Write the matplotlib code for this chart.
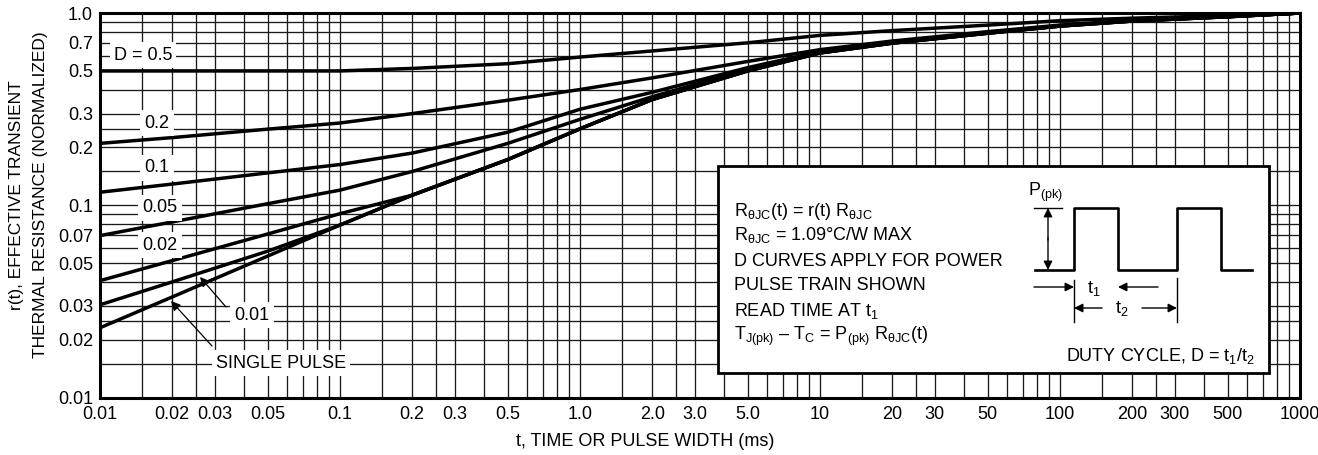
"""Transient thermal response chart (r(t) vs pulse width) with duty-cycle curves."""
import matplotlib
matplotlib.use("Agg")
import matplotlib.pyplot as plt
from matplotlib import font_manager
from matplotlib.patches import Rectangle
from matplotlib.ticker import FixedLocator, NullFormatter

# ---- data ------------------------------------------------------------------
t_ms = [0.01, 0.02, 0.05, 0.1, 0.2, 0.5, 1, 2, 5, 10, 20, 50, 100, 200, 500, 1000]
r_d50 = [0.50, 0.50, 0.50, 0.50, 0.515, 0.545, 0.59, 0.635, 0.70, 0.765, 0.81, 0.865, 0.912, 0.94, 0.97, 1.0]
r_d20 = [0.21, 0.225, 0.249, 0.268, 0.30, 0.352, 0.40, 0.46, 0.56, 0.645, 0.715, 0.80, 0.865, 0.915, 0.96, 1.0]
r_d10 = [0.117, 0.129, 0.1475, 0.163, 0.187, 0.24, 0.316, 0.387, 0.52, 0.63, 0.705, 0.79, 0.86, 0.912, 0.958, 1.0]
r_d05 = [0.0696, 0.082, 0.102, 0.12, 0.15, 0.21, 0.28, 0.367, 0.51, 0.625, 0.70, 0.787, 0.857, 0.91, 0.957, 1.0]
r_d02 = [0.0406, 0.0516, 0.071, 0.0905, 0.113, 0.173, 0.25, 0.355, 0.50, 0.62, 0.697, 0.785, 0.855, 0.908, 0.956, 1.0]
r_d01 = [0.0304, 0.040, 0.0578, 0.079, 0.113, 0.173, 0.25, 0.355, 0.50, 0.62, 0.697, 0.785, 0.855, 0.908, 0.956, 1.0]
r_single = [0.0231, 0.0334, 0.0545, 0.079, 0.113, 0.173, 0.25, 0.355, 0.50, 0.62, 0.697, 0.785, 0.855, 0.908, 0.956, 1.0]

x_ticks = [0.01, 0.02, 0.03, 0.05, 0.1, 0.2, 0.3, 0.5, 1, 2, 3, 5, 10, 20, 30, 50, 100, 200, 300, 500, 1000]
x_labels = ["0.01", "0.02", "0.03", "0.05", "0.1", "0.2", "0.3", "0.5", "1.0", "2.0", "3.0", "5.0",
            "10", "20", "30", "50", "100", "200", "300", "500", "1000"]
y_ticks = [0.01, 0.02, 0.03, 0.05, 0.07, 0.1, 0.2, 0.3, 0.5, 0.7, 1.0]
y_labels = ["0.01", "0.02", "0.03", "0.05", "0.07", "0.1", "0.2", "0.3", "0.5", "0.7", "1.0"]
grid_steps = [1, 1.5, 2, 2.5, 3, 4, 5, 6, 7, 8, 9]

# ---- fonts ------------------------------------------------------------------
names = {f.name for f in font_manager.fontManager.ttflist}
FONT = "Liberation Sans Narrow" if "Liberation Sans Narrow" in names else "Liberation Sans"
plt.rcParams["font.family"] = [FONT, "DejaVu Sans"]
plt.rcParams["mathtext.fontset"] = "custom"
plt.rcParams["mathtext.rm"] = FONT
plt.rcParams["mathtext.it"] = FONT
plt.rcParams["mathtext.bf"] = FONT

W, H = 1318, 455
fig = plt.figure(figsize=(W / 100, H / 100), dpi=100)
L, R, T, B = 100, 1300, 13, 397.7
ax = fig.add_axes([L / W, 1 - B / H, (R - L) / W, (B - T) / H])


def axf(px, py):
    """reference pixel -> axes fraction (for annotation furniture only)"""
    return (px - L) / (R - L), (B - py) / (B - T)


ax.set_xscale("log")
ax.set_yscale("log")
ax.set_xlim(0.01, 1000)
ax.set_ylim(0.01, 1.0)

ax.xaxis.set_major_locator(FixedLocator(x_ticks))
ax.set_xticklabels(x_labels)
ax.yaxis.set_major_locator(FixedLocator(y_ticks))
ax.set_yticklabels(y_labels)
xgrid = [s * 10.0 ** e for e in range(-2, 3) for s in grid_steps]
ygrid = [s * 10.0 ** e for e in range(-2, 0) for s in grid_steps]
ax.xaxis.set_minor_locator(FixedLocator(xgrid))
ax.yaxis.set_minor_locator(FixedLocator(ygrid))
ax.xaxis.set_minor_formatter(NullFormatter())
ax.yaxis.set_minor_formatter(NullFormatter())
ax.tick_params(which="both", length=0, labelsize=13)
ax.tick_params(axis="x", pad=6)
ax.tick_params(axis="y", pad=5)
ax.grid(True, which="both", color="#1a1a1a", linewidth=0.95)
for sp in ax.spines.values():
    sp.set_linewidth(2.2)

for r in (r_d50, r_d20, r_d10, r_d05, r_d02, r_d01, r_single):
    ax.plot(t_ms, r, color="black", linewidth=2.5, solid_capstyle="butt",
            solid_joinstyle="round", zorder=2)

box = dict(facecolor="white", edgecolor="none", pad=3)
for txt, px, py in [("D = 0.5", 143, 55), ("0.2", 157, 123), ("0.1", 157, 168),
                    ("0.05", 160, 208), ("0.02", 160, 245), ("0.01", 252, 315),
                    ("SINGLE PULSE", 281, 363)]:
    ax.text(*axf(px, py), txt, transform=ax.transAxes, ha="center", va="center",
            fontsize=13, bbox=box, zorder=3)

arrow = dict(arrowstyle="-|>", color="black", lw=0.9, mutation_scale=14, shrinkA=0, shrinkB=0)
ax.annotate("", xy=axf(200, 277), xytext=axf(226, 307), xycoords="axes fraction",
            textcoords="axes fraction", arrowprops=arrow, zorder=3)
ax.annotate("", xy=axf(171, 301), xytext=axf(212, 346), xycoords="axes fraction",
            textcoords="axes fraction", arrowprops=arrow, zorder=3)

# ---- inset with notes and the pulse-train sketch ---------------------------
x0, y0 = axf(718, 373)
x1, y1 = axf(1269, 166)
ax.add_patch(Rectangle((x0, y0), x1 - x0, y1 - y0, transform=ax.transAxes,
                       facecolor="white", edgecolor="black", linewidth=2.0, zorder=4))

RJC = r"$\mathregular{R_{\theta JC}}$"
notes = [
    (RJC + "(t) = r(t) " + RJC, 211),
    (RJC + " = 1.09°C/W MAX", 235),
    ("D CURVES APPLY FOR POWER", 261),
    ("PULSE TRAIN SHOWN", 286),
    (r"READ TIME AT $\mathregular{t_1}$", 311),
    (r"$\mathregular{T_{J(pk)}}$ – $\mathregular{T_C}$ = $\mathregular{P_{(pk)}}$ " + RJC + "(t)", 336),
]
for txt, py in notes:
    ax.text(*axf(734, py), txt, transform=ax.transAxes, ha="left", va="center",
            fontsize=13, zorder=5)

ax.text(*axf(1160, 356), r"DUTY CYCLE, D = $\mathregular{t_1/t_2}$", transform=ax.transAxes,
        ha="center", va="center", fontsize=13, zorder=5)
ax.text(*axf(1046, 192), r"$\mathregular{P_{(pk)}}$", transform=ax.transAxes,
        ha="center", va="center", fontsize=13, zorder=5)

pulse_x = [1035, 1074, 1074, 1118, 1118, 1177, 1177, 1221, 1221, 1252]
pulse_y = [270, 270, 208, 208, 270, 270, 208, 208, 270, 270]
px, py = zip(*[axf(a, b) for a, b in zip(pulse_x, pulse_y)])
ax.plot(px, py, color="black", linewidth=1.9, transform=ax.transAxes, zorder=5)

thin = dict(color="black", linewidth=1.0, transform=ax.transAxes, zorder=5)
for (ax_, ay_), (bx_, by_) in [((1034, 208), (1062, 208)), ((1074, 280), (1074, 322)),
                               ((1177, 278), (1177, 322))]:
    (a1, a2), (b1, b2) = axf(ax_, ay_), axf(bx_, by_)
    ax.plot([a1, b1], [a2, b2], **thin)

arrow5 = dict(arrow, lw=1.0, mutation_scale=13)
for tip, tail in [((1048, 208), (1048, 240)), ((1048, 270), (1048, 238)),
                  ((1074, 287), (1034, 287)), ((1118, 287), (1158, 287)),
                  ((1074, 308), (1102, 308)), ((1177, 308), (1142, 308))]:
    ann = ax.annotate("", xy=axf(*tip), xytext=axf(*tail), xycoords="axes fraction",
                      textcoords="axes fraction", arrowprops=arrow5)
    ann.set_zorder(6)

ax.text(*axf(1094, 289), r"$\mathregular{t_1}$", transform=ax.transAxes, ha="center",
        va="center", fontsize=13, zorder=5)
ax.text(*axf(1122, 309), r"$\mathregular{t_2}$", transform=ax.transAxes, ha="center",
        va="center", fontsize=13, zorder=5)

fig.text(29 / W, 1 - 195 / H, "r(t), EFFECTIVE TRANSIENT\nTHERMAL RESISTANCE (NORMALIZED)",
         rotation=90, ha="center", va="center", fontsize=12.5, linespacing=1.75)
fig.text(645 / W, 1 - 441 / H, "t, TIME OR PULSE WIDTH (ms)", ha="center", va="center",
         fontsize=13)

fig.savefig("out.png", dpi=100)
